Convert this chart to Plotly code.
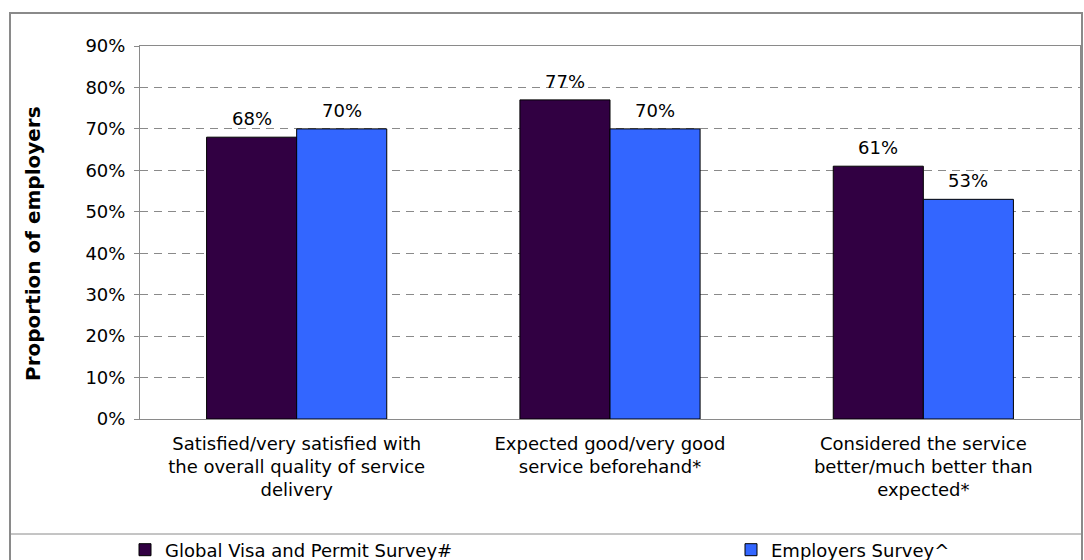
import plotly.graph_objects as go

# Survey results by question
categories = [
    "Satisfied/very satisfied with<br>the overall quality of service<br>delivery",
    "Expected good/very good<br>service beforehand*",
    "Considered the service<br>better/much better than<br>expected*",
]
global_visa = [68, 77, 61]
employers = [70, 70, 53]
series_names = ["Global Visa and Permit Survey#", "Employers Survey^"]
series_colors = ["#310042", "#3366FF"]
y_ticks = [0, 10, 20, 30, 40, 50, 60, 70, 80, 90]

FONT = "DejaVu Sans, Verdana, sans-serif"
GRID = "#8a8a8a"

# plot-area geometry in pixels
W, H = 1084, 560
L, R, T, B = 140, 4, 46, 141
PW, PH = W - L - R, H - T - B
BARGAP = 0.425
BAR_W = (PW / len(categories)) * (1 - BARGAP) / 2


def px_x(x):
    return (x - L) / PW


def px_y(y):
    return (H - B - y) / PH


fig = go.Figure()
annotations = []
for i, (name, vals, color) in enumerate(zip(series_names, [global_visa, employers], series_colors)):
    fig.add_trace(go.Bar(
        x=categories, y=vals, name=name, legend="legend" if i == 0 else "legend2",
        marker=dict(color=color, line=dict(color="#000000", width=1)),
    ))
    # value labels above each bar
    shift = (i - 0.5) * BAR_W
    for cat, v in zip(categories, vals):
        annotations.append(dict(
            x=cat, y=v, xref="x", yref="y", text=f"{v}%", showarrow=False,
            xanchor="center", yanchor="bottom", xshift=shift, yshift=6,
            font=dict(family=FONT, size=18, color="#000000"),
        ))

annotations.append(dict(
    text="<b>Proportion of employers</b>", textangle=-90,
    xref="paper", yref="paper", x=px_x(33), y=px_y(244),
    xanchor="center", yanchor="middle", showarrow=False,
    font=dict(family=FONT, size=20, color="#000000"),
))

legend_common = dict(
    orientation="h", xref="container", yref="container",
    xanchor="left", yanchor="middle", y=1 - 550 / H,
    bgcolor="rgba(0,0,0,0)",
    font=dict(family=FONT, size=18, color="#000000"),
    itemclick=False, itemdoubleclick=False,
)

fig.update_layout(
    width=W, height=H,
    margin=dict(l=L, r=R, t=T, b=B),
    paper_bgcolor="white", plot_bgcolor="white",
    font=dict(family=FONT, size=18, color="#000000"),
    barmode="group", bargap=BARGAP, bargroupgap=0,
    showlegend=True,
    legend=dict(legend_common, x=125 / W),
    legend2=dict(legend_common, x=731 / W),
    xaxis=dict(
        showline=True, linecolor=GRID, linewidth=1, mirror=True,
        showgrid=False, ticks="", ticklabelstandoff=8, automargin=False,
        tickfont=dict(family=FONT, size=18),
    ),
    yaxis=dict(
        range=[0, 90], tickvals=y_ticks, ticktext=[f"{t}%" for t in y_ticks],
        showline=True, linecolor=GRID, linewidth=1, mirror=True,
        showgrid=True, gridcolor=GRID, griddash="8px,6px", gridwidth=1,
        ticks="outside", ticklen=5, tickcolor=GRID, ticklabelstandoff=5,
        tickfont=dict(family=FONT, size=18), automargin=False,
        zeroline=False,
    ),
    annotations=annotations,
    shapes=[
        # outer chart frame
        dict(type="rect", xref="paper", yref="paper",
             x0=px_x(10), x1=px_x(1082), y0=px_y(575), y1=px_y(13),
             line=dict(color=GRID, width=2), layer="below"),
        # separator above the legend
        dict(type="line", xref="paper", yref="paper",
             x0=px_x(10), x1=px_x(1082), y0=px_y(534), y1=px_y(534),
             line=dict(color=GRID, width=1)),
    ],
)

fig.write_html("out.html")
